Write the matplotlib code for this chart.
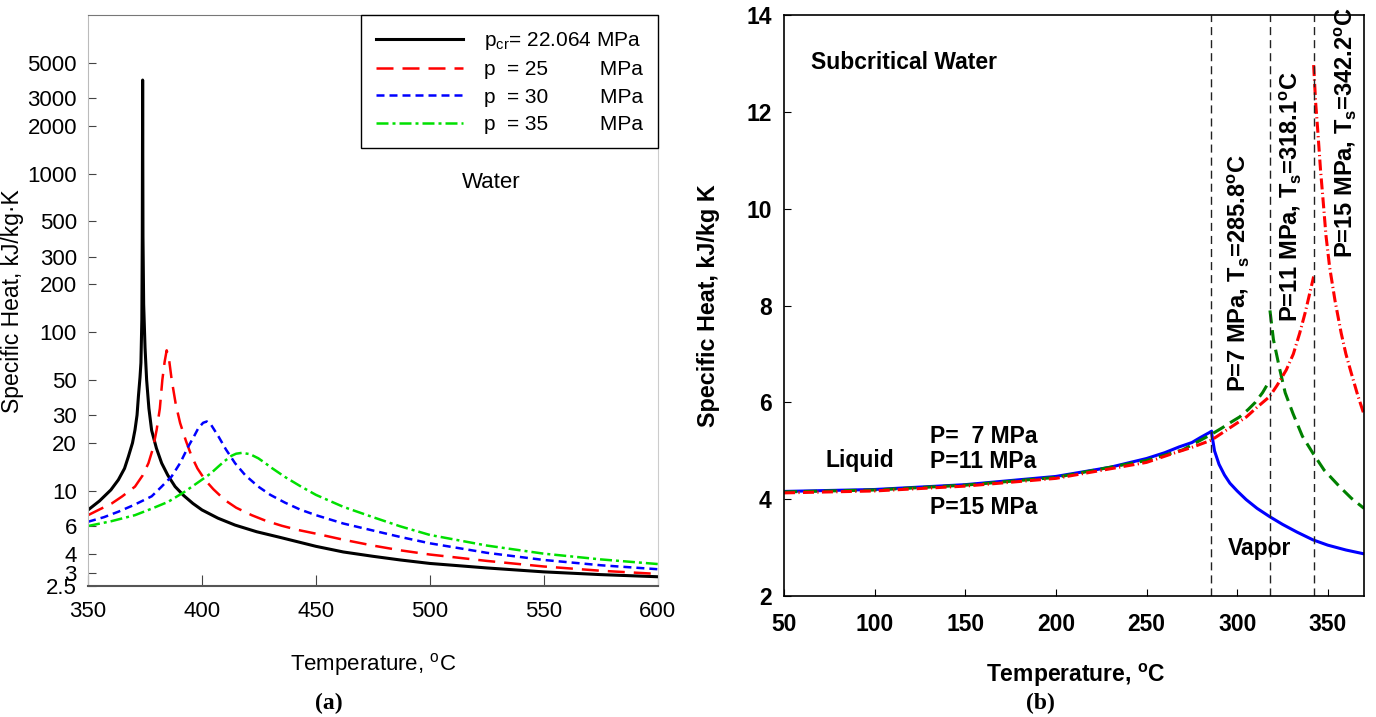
import matplotlib
matplotlib.use("Agg")
import matplotlib.pyplot as plt
from matplotlib.ticker import FixedLocator, NullLocator

plt.rcParams['font.family'] = ['Liberation Sans', 'DejaVu Sans']
plt.rcParams['mathtext.fontset'] = 'custom'
plt.rcParams['mathtext.rm'] = 'Liberation Sans'
plt.rcParams['mathtext.it'] = 'Liberation Sans:italic'
plt.rcParams['mathtext.bf'] = 'Liberation Sans:bold'

# ---- panel (a): supercritical water, log scale ----
t_cr = [350, 355, 360, 363.3, 366, 367.7, 369.5, 370.6, 371.5, 372.1, 372.8, 373.2, 373.6,
        373.8, 373.95, 374.1, 374.4, 375.0, 375.7, 376.7, 377.9, 380, 382.3, 385, 388.2,
        392, 396, 400, 407, 414.5, 424, 434.2, 450, 462, 475, 487, 500, 525, 550, 575, 600]
cp_cr = [7.55, 8.6, 10.1, 11.7, 13.8, 16.4, 20, 24.2, 30, 39.4, 52, 64, 120,
         400, 3900, 400, 150, 80, 50, 33, 24, 18.5, 14.9, 12.5, 10.6,
         9.3, 8.3, 7.55, 6.7, 6.06, 5.5, 5.07, 4.45, 4.1, 3.85, 3.65, 3.47, 3.25, 3.07, 2.95, 2.86]

t_25 = [350, 355, 360.4, 365, 370.6, 374, 376.5, 378.5, 380.1, 381.5, 382.6, 383.6, 384.5,
        385.5, 386.7, 388.5, 390.4, 393, 395.5, 398, 401.3, 405, 410.1, 415, 421.8, 428,
        435, 442, 450, 462, 475, 487, 500, 525, 550, 575, 600]
cp_25 = [7.0, 7.6, 8.3, 9.2, 10.6, 12.5, 14.9, 18.5, 24.2, 33, 50, 65, 76.8,
         68, 50, 35, 26.7, 20.5, 16.4, 13.8, 11.7, 10.2, 8.7, 7.8, 7.0, 6.45,
         6.0, 5.65, 5.35, 4.9, 4.5, 4.2, 3.95, 3.6, 3.32, 3.12, 2.98]

t_30 = [350, 357, 363.3, 370, 377.9, 382, 386.7, 390.5, 394, 396.5, 398.4, 400.5, 402.1,
        404, 407.2, 410.5, 414.5, 419, 424.7, 430, 436.4, 443, 450, 462, 475, 487, 500,
        525, 550, 575, 600]
cp_30 = [6.36, 6.8, 7.36, 8.1, 9.2, 10.5, 12.3, 15, 19, 22, 24.8, 26.8, 27.3,
         26, 22, 18.2, 14.9, 12.5, 10.6, 9.4, 8.4, 7.6, 7.0, 6.2, 5.6, 5.1, 4.65,
         4.05, 3.65, 3.38, 3.19]

t_35 = [350, 360, 370.6, 378, 385.2, 392.5, 399.9, 404, 407.2, 410, 413, 415, 417.4,
        421, 424.7, 427.5, 430.6, 436.4, 443, 450, 462, 475, 487, 500, 525, 550, 575, 600]
cp_35 = [5.98, 6.4, 7.0, 7.7, 8.5, 9.86, 11.7, 12.9, 14.2, 15.4, 16.6, 17.1, 17.3,
         17.0, 16.0, 15.0, 13.9, 12.2, 10.7, 9.4, 7.9, 6.8, 5.95, 5.25, 4.5, 4.0, 3.68, 3.44]

a_yticks = [2.5, 3, 4, 6, 10, 20, 30, 50, 100, 200, 300, 500, 1000, 2000, 3000, 5000]
a_xticks = [350, 400, 450, 500, 550, 600]

# ---- panel (b): subcritical water ----
t7_liq = [50, 100, 150, 200, 230, 250, 260, 268, 275, 280, 285.8]
cp7_liq = [4.16, 4.20, 4.30, 4.47, 4.66, 4.84, 4.96, 5.08, 5.17, 5.28, 5.40]
t7_vap = [285.8, 287.5, 290, 293, 296, 300, 305, 311, 317.9, 325, 333, 341.8, 350, 360, 370]
cp7_vap = [5.39, 5.0, 4.72, 4.5, 4.33, 4.17, 3.99, 3.81, 3.64, 3.48, 3.32, 3.16, 3.05, 2.95, 2.87]

t11_liq = [50, 100, 150, 200, 250, 270, 285.8, 292, 297, 301.4, 306, 310, 314, 318.1]
cp11_liq = [4.15, 4.19, 4.29, 4.45, 4.80, 5.02, 5.34, 5.48, 5.6, 5.70, 5.85, 6.0, 6.2, 6.46]
t11_vap = [318.1, 320, 323.4, 326.5, 330.8, 336, 341.8, 348, 356.5, 363, 370]
cp11_vap = [7.9, 7.3, 6.7, 6.2, 5.77, 5.3, 4.95, 4.6, 4.26, 4.02, 3.81]

t15_liq = [50, 100, 150, 200, 250, 265, 275, 285.8, 295, 305.1, 311, 317.9, 322, 327.1,
           331, 334.5, 337.5, 340.9, 342.2]
cp15_liq = [4.13, 4.17, 4.27, 4.43, 4.76, 4.95, 5.07, 5.22, 5.45, 5.70, 5.9, 6.12, 6.35, 6.67,
            7.0, 7.43, 7.85, 8.39, 8.6]
t15_vap = [342.2, 343.3, 344.6, 346, 347.4, 349, 351, 354, 357.4, 360, 363, 366.5, 370]
cp15_vap = [12.97, 12.2, 11.55, 10.8, 10.18, 9.45, 8.80, 8.1, 7.43, 7.0, 6.6, 6.15, 5.75]

t_sat = [285.8, 318.1, 342.2]
b_yticks = [2, 4, 6, 8, 10, 12, 14]
b_xticks = [50, 100, 150, 200, 250, 300, 350]

fig = plt.figure(figsize=(13.76, 7.17), dpi=100)
ax1 = fig.add_axes([0.064, 0.1827, 0.414, 0.796])
ax2 = fig.add_axes([0.5698, 0.1688, 0.4215, 0.810])

# panel (a)
ax1.plot(t_cr, cp_cr, color='black', lw=2.2, label=r'p$_{\mathrm{cr}}$= 22.064 MPa')
ax1.plot(t_25, cp_25, color='#ff0000', lw=1.8, ls=(0, (6.8, 3.6)),
         label='p  = 25         MPa')
ax1.plot(t_30, cp_30, color='#0000ff', lw=1.8, ls=(0, (3.2, 2.0)),
         label='p  = 30         MPa')
ax1.plot(t_35, cp_35, color='#00e000', lw=1.8, ls=(0, (4.8, 1.6, 1.2, 1.6)),
         label='p  = 35         MPa')
ax1.set_yscale('log')
ax1.set_xlim(350, 600)
ax1.set_ylim(2.5, 10000)
ax1.yaxis.set_major_locator(FixedLocator(a_yticks))
ax1.yaxis.set_minor_locator(NullLocator())
ax1.set_yticklabels([f'{v:g}' for v in a_yticks])
ax1.set_xticks(a_xticks)
ax1.tick_params(axis='both', direction='in', labelsize=16, color='#444444')
ax1.tick_params(axis='y', length=6, pad=8)
ax1.tick_params(axis='x', length=8, pad=11)
ax1.spines['left'].set_color('#bbbbbb')
ax1.spines['right'].set_color('#cccccc')
ax1.spines['top'].set_color('#777777')
ax1.spines['bottom'].set_color('#555555')
ax1.spines['bottom'].set_linewidth(1.5)
ax1.set_xlabel(r'Temperature, $^{\mathrm{o}}$C', fontsize=16)
ax1.set_ylabel('Specific Heat, kJ/kg·K', fontsize=16.5)
ax1.xaxis.set_label_coords(0.5, -0.114)
ax1.yaxis.set_label_coords(-0.112, 0.5)
leg = ax1.legend(loc='upper right', borderaxespad=0, fancybox=False, framealpha=1,
                 edgecolor='black', handlelength=4.2, handletextpad=1.0,
                 fontsize=15, labelspacing=0.4, borderpad=0.7)
leg.get_frame().set_linewidth(1.0)
ax1.text(527, 885, 'Water', fontsize=16, ha='center', va='center')

# panel (b)
red_ls = (0, (3.6, 1.1, 0.4, 1.1))
green_ls = (0, (4.3, 2.2))
ax2.plot(t7_liq, cp7_liq, color='#0000ff', lw=2.2)
ax2.plot(t7_vap, cp7_vap, color='#0000ff', lw=2.2)
ax2.plot(t11_liq, cp11_liq, color='#008000', lw=2.2, ls=green_ls)
ax2.plot(t11_vap, cp11_vap, color='#008000', lw=2.2, ls=green_ls)
ax2.plot(t15_liq, cp15_liq, color='#ff0000', lw=2.2, ls=red_ls)
ax2.plot(t15_vap, cp15_vap, color='#ff0000', lw=2.2, ls=red_ls)
for ts in t_sat:
    ax2.axvline(ts, color='#222222', lw=1.0, ls=(0, (5.8, 3.6)))
ax2.set_xlim(50, 370)
ax2.set_ylim(2, 14)
ax2.set_xticks(b_xticks)
ax2.set_yticks(b_yticks)
ax2.tick_params(axis='both', direction='in', length=5, labelsize=16.5)
ax2.tick_params(axis='y', pad=9)
ax2.tick_params(axis='x', pad=12)
for lab in ax2.get_xticklabels() + ax2.get_yticklabels():
    lab.set_fontweight('bold')
for s in ax2.spines.values():
    s.set_linewidth(1.2)
ax2.set_xlabel(r'Temperature, $^{\mathbf{o}}$C', fontsize=16.5, fontweight='bold')
ax2.set_ylabel('Specific Heat, kJ/kg K', fontsize=16.8, fontweight='bold')
ax2.xaxis.set_label_coords(0.503, -0.114)
ax2.yaxis.set_label_coords(-0.110, 0.5)

bold = dict(fontsize=16.5, fontweight='bold')
ax2.text(65, 13.03, 'Subcritical Water', ha='left', va='center', **bold)
ax2.text(72.6, 4.79, 'Liquid', ha='left', va='center', **bold)
ax2.text(130.5, 5.3, 'P=  7 MPa', ha='left', va='center', **bold)
ax2.text(130.5, 4.77, 'P=11 MPa', ha='left', va='center', **bold)
ax2.text(130.5, 3.82, 'P=15 MPa', ha='left', va='center', **bold)
ax2.text(294.8, 2.99, 'Vapor', ha='left', va='center', **bold)
rot = dict(fontsize=17, fontweight='bold', rotation=90, ha='center', va='bottom')
ax2.text(300.3, 6.21, r'P=7 MPa, T$_\mathbf{s}$=285.8$^\mathbf{o}$C', **rot)
ax2.text(329, 7.66, r'P=11 MPa, T$_\mathbf{s}$=318.1$^\mathbf{o}$C', **rot)
ax2.text(359.3, 8.98, r'P=15 MPa, T$_\mathbf{s}$=342.2$^\mathbf{o}$C', **rot)

fig.text(329 / 1376, 1 - 703 / 717, '(a)', family='Liberation Serif', fontweight='bold',
         fontsize=17, ha='center', va='center')
fig.text(1040 / 1376, 1 - 703 / 717, '(b)', family='Liberation Serif', fontweight='bold',
         fontsize=17, ha='center', va='center')

fig.savefig('out.png', dpi=100)
